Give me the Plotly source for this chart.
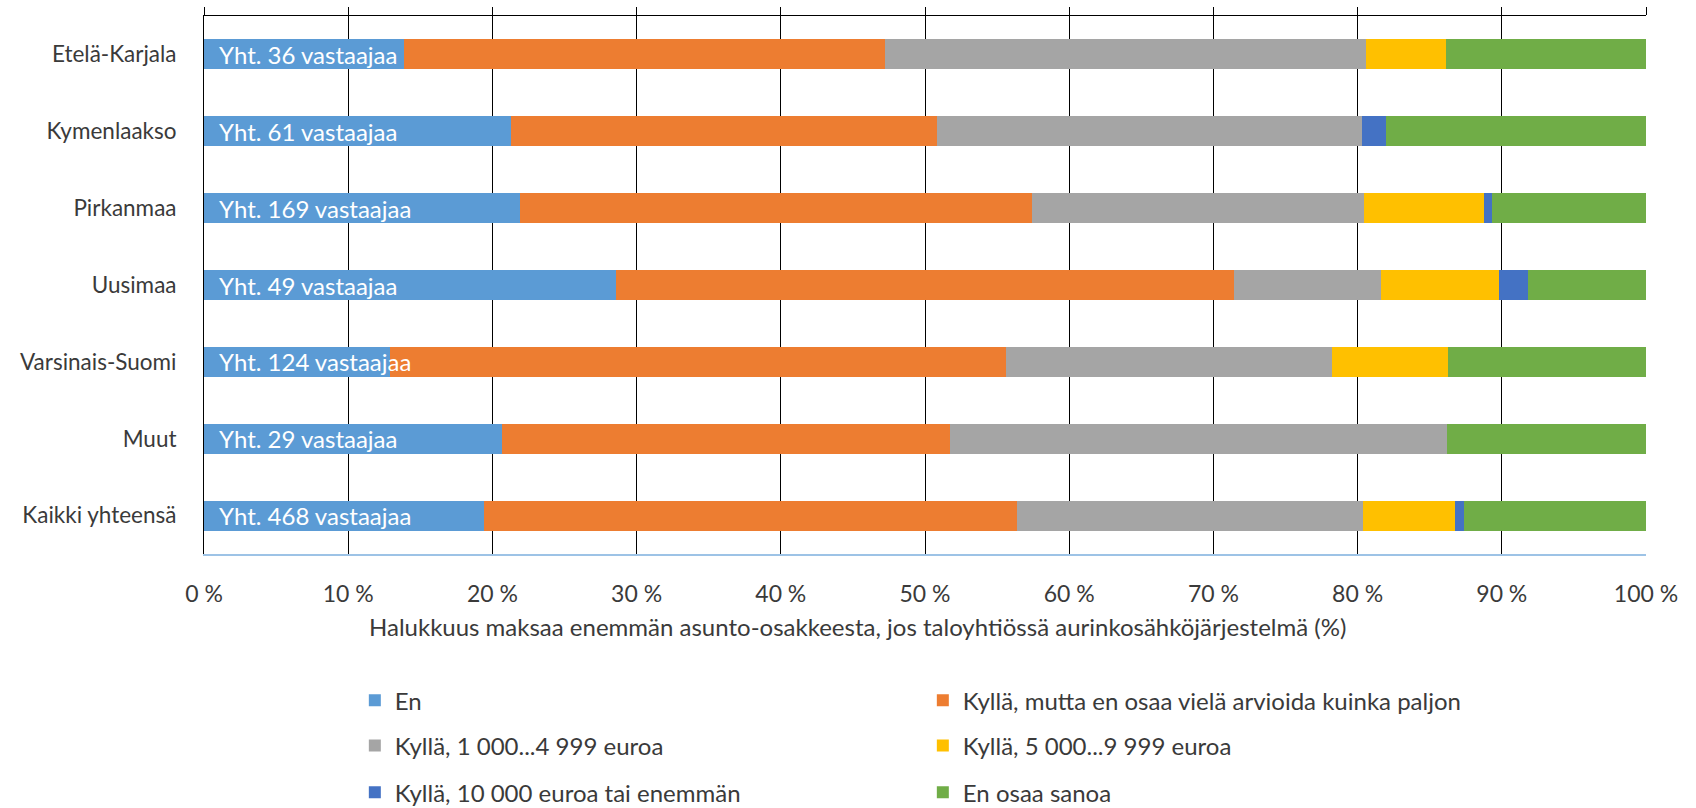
import plotly.graph_objects as go

categories = ["Etelä-Karjala", "Kymenlaakso", "Pirkanmaa", "Uusimaa",
              "Varsinais-Suomi", "Muut", "Kaikki yhteensä"]
respondents = [36, 61, 169, 49, 124, 29, 468]

series_names = [
    "En",
    "Kyllä, mutta en osaa vielä arvioida kuinka paljon",
    "Kyllä, 1 000...4 999 euroa",
    "Kyllä, 5 000...9 999 euroa",
    "Kyllä, 10 000 euroa tai enemmän",
    "En osaa sanoa",
]
# percentages (%), per category in the order above
en = [13.89, 21.31, 21.89, 28.57, 12.90, 20.69, 19.44]
kylla_ei_arviota = [33.33, 29.51, 35.50, 42.86, 42.74, 31.03, 36.97]
kylla_1000_4999 = [33.33, 29.51, 23.08, 10.20, 22.58, 34.48, 23.93]
kylla_5000_9999 = [5.56, 0.00, 8.28, 8.16, 8.06, 0.00, 6.41]
kylla_10000 = [0.00, 1.64, 0.59, 2.04, 0.00, 0.00, 0.64]
en_osaa_sanoa = [13.89, 18.03, 10.65, 8.16, 13.71, 13.79, 12.61]

x_ticks = [0, 10, 20, 30, 40, 50, 60, 70, 80, 90, 100]
x_tick_labels = ["0 %", "10 %", "20 %", "30 %", "40 %", "50 %",
                 "60 %", "70 %", "80 %", "90 %", "100 %"]
x_title = "Halukkuus maksaa enemmän asunto-osakkeesta, jos taloyhtiössä aurinkosähköjärjestelmä (%)"

series_values = [en, kylla_ei_arviota, kylla_1000_4999, kylla_5000_9999, kylla_10000, en_osaa_sanoa]
colors = ["#5B9BD5", "#ED7D31", "#A5A5A5", "#FFC000", "#4472C4", "#70AD47"]
legend_ids = ["legend", "legend", "legend2", "legend2", "legend3", "legend3"]

FONT = "Lato"
TXT = "#3a3a3a"

fig = go.Figure()
for name, vals, col, lg in zip(series_names, series_values, colors, legend_ids):
    fig.add_trace(go.Bar(
        y=categories, x=vals, name=name, orientation="h",
        marker=dict(color=col, line=dict(width=0)),
        legend=lg, hoverinfo="x+name",
    ))

# invisible trace to carry the top axis
fig.add_trace(go.Scatter(x=[0, 100], y=[categories[0], categories[0]], mode="markers",
                         marker=dict(opacity=0), xaxis="x2", showlegend=False,
                         hoverinfo="skip"))

for cat, n in zip(categories, respondents):
    fig.add_annotation(x=0, y=cat, xref="x", yref="y", text=f"Yht. {n} vastaajaa",
                       showarrow=False, xanchor="left", yanchor="middle", xshift=13,
                       font=dict(family=FONT, size=24, color="white"))

# axis title (centred on the chart area, slightly left of the plot centre)
fig.add_annotation(x=0.4532, y=-0.1356, xref="paper", yref="paper", text=x_title,
                   showarrow=False, xanchor="center", yanchor="middle",
                   font=dict(family=FONT, size=24, color=TXT))

legend_common = dict(orientation="h", xanchor="left", yanchor="middle",
                     traceorder="normal",
                     font=dict(family=FONT, size=24, color=TXT),
                     entrywidth=523, entrywidthmode="pixels",
                     bgcolor="rgba(0,0,0,0)", itemclick=False, itemdoubleclick=False)

fig.update_layout(
    width=1696, height=808,
    margin=dict(l=204, r=50, t=16, b=254, autoexpand=False),
    paper_bgcolor="white", plot_bgcolor="white",
    barmode="stack", bargap=0.61,
    font=dict(family=FONT, size=23, color=TXT),
    xaxis=dict(range=[0, 100], tickmode="array", tickvals=x_ticks, ticktext=x_tick_labels,
               showgrid=True, gridcolor="black", gridwidth=1,
               showline=True, linecolor="#9DC3E6", linewidth=2,
               ticks="", zeroline=False, ticklabelstandoff=18,
               tickfont=dict(family=FONT, size=23, color=TXT)),
    xaxis2=dict(range=[0, 100], tickvals=x_ticks, overlaying="x", side="top",
                anchor="y", showticklabels=False, ticks="outside", ticklen=8,
                tickcolor="black", tickwidth=1, showline=True, linecolor="black",
                linewidth=1, showgrid=False, zeroline=False),
    yaxis=dict(range=[6.5, -0.5], showline=True, linecolor="black", linewidth=1,
               showgrid=False, ticks="", ticklabelstandoff=22,
               tickfont=dict(family=FONT, size=22.5, color=TXT)),
    legend=dict(x=0.1046, y=-0.2724, **legend_common),
    legend2=dict(x=0.1046, y=-0.3565, **legend_common),
    legend3=dict(x=0.1046, y=-0.4438, **legend_common),
    showlegend=True,
)

fig.write_html("out.html", config={"displayModeBar": False},
               post_script="document.body.style.margin='0';document.body.style.overflow='hidden';")
